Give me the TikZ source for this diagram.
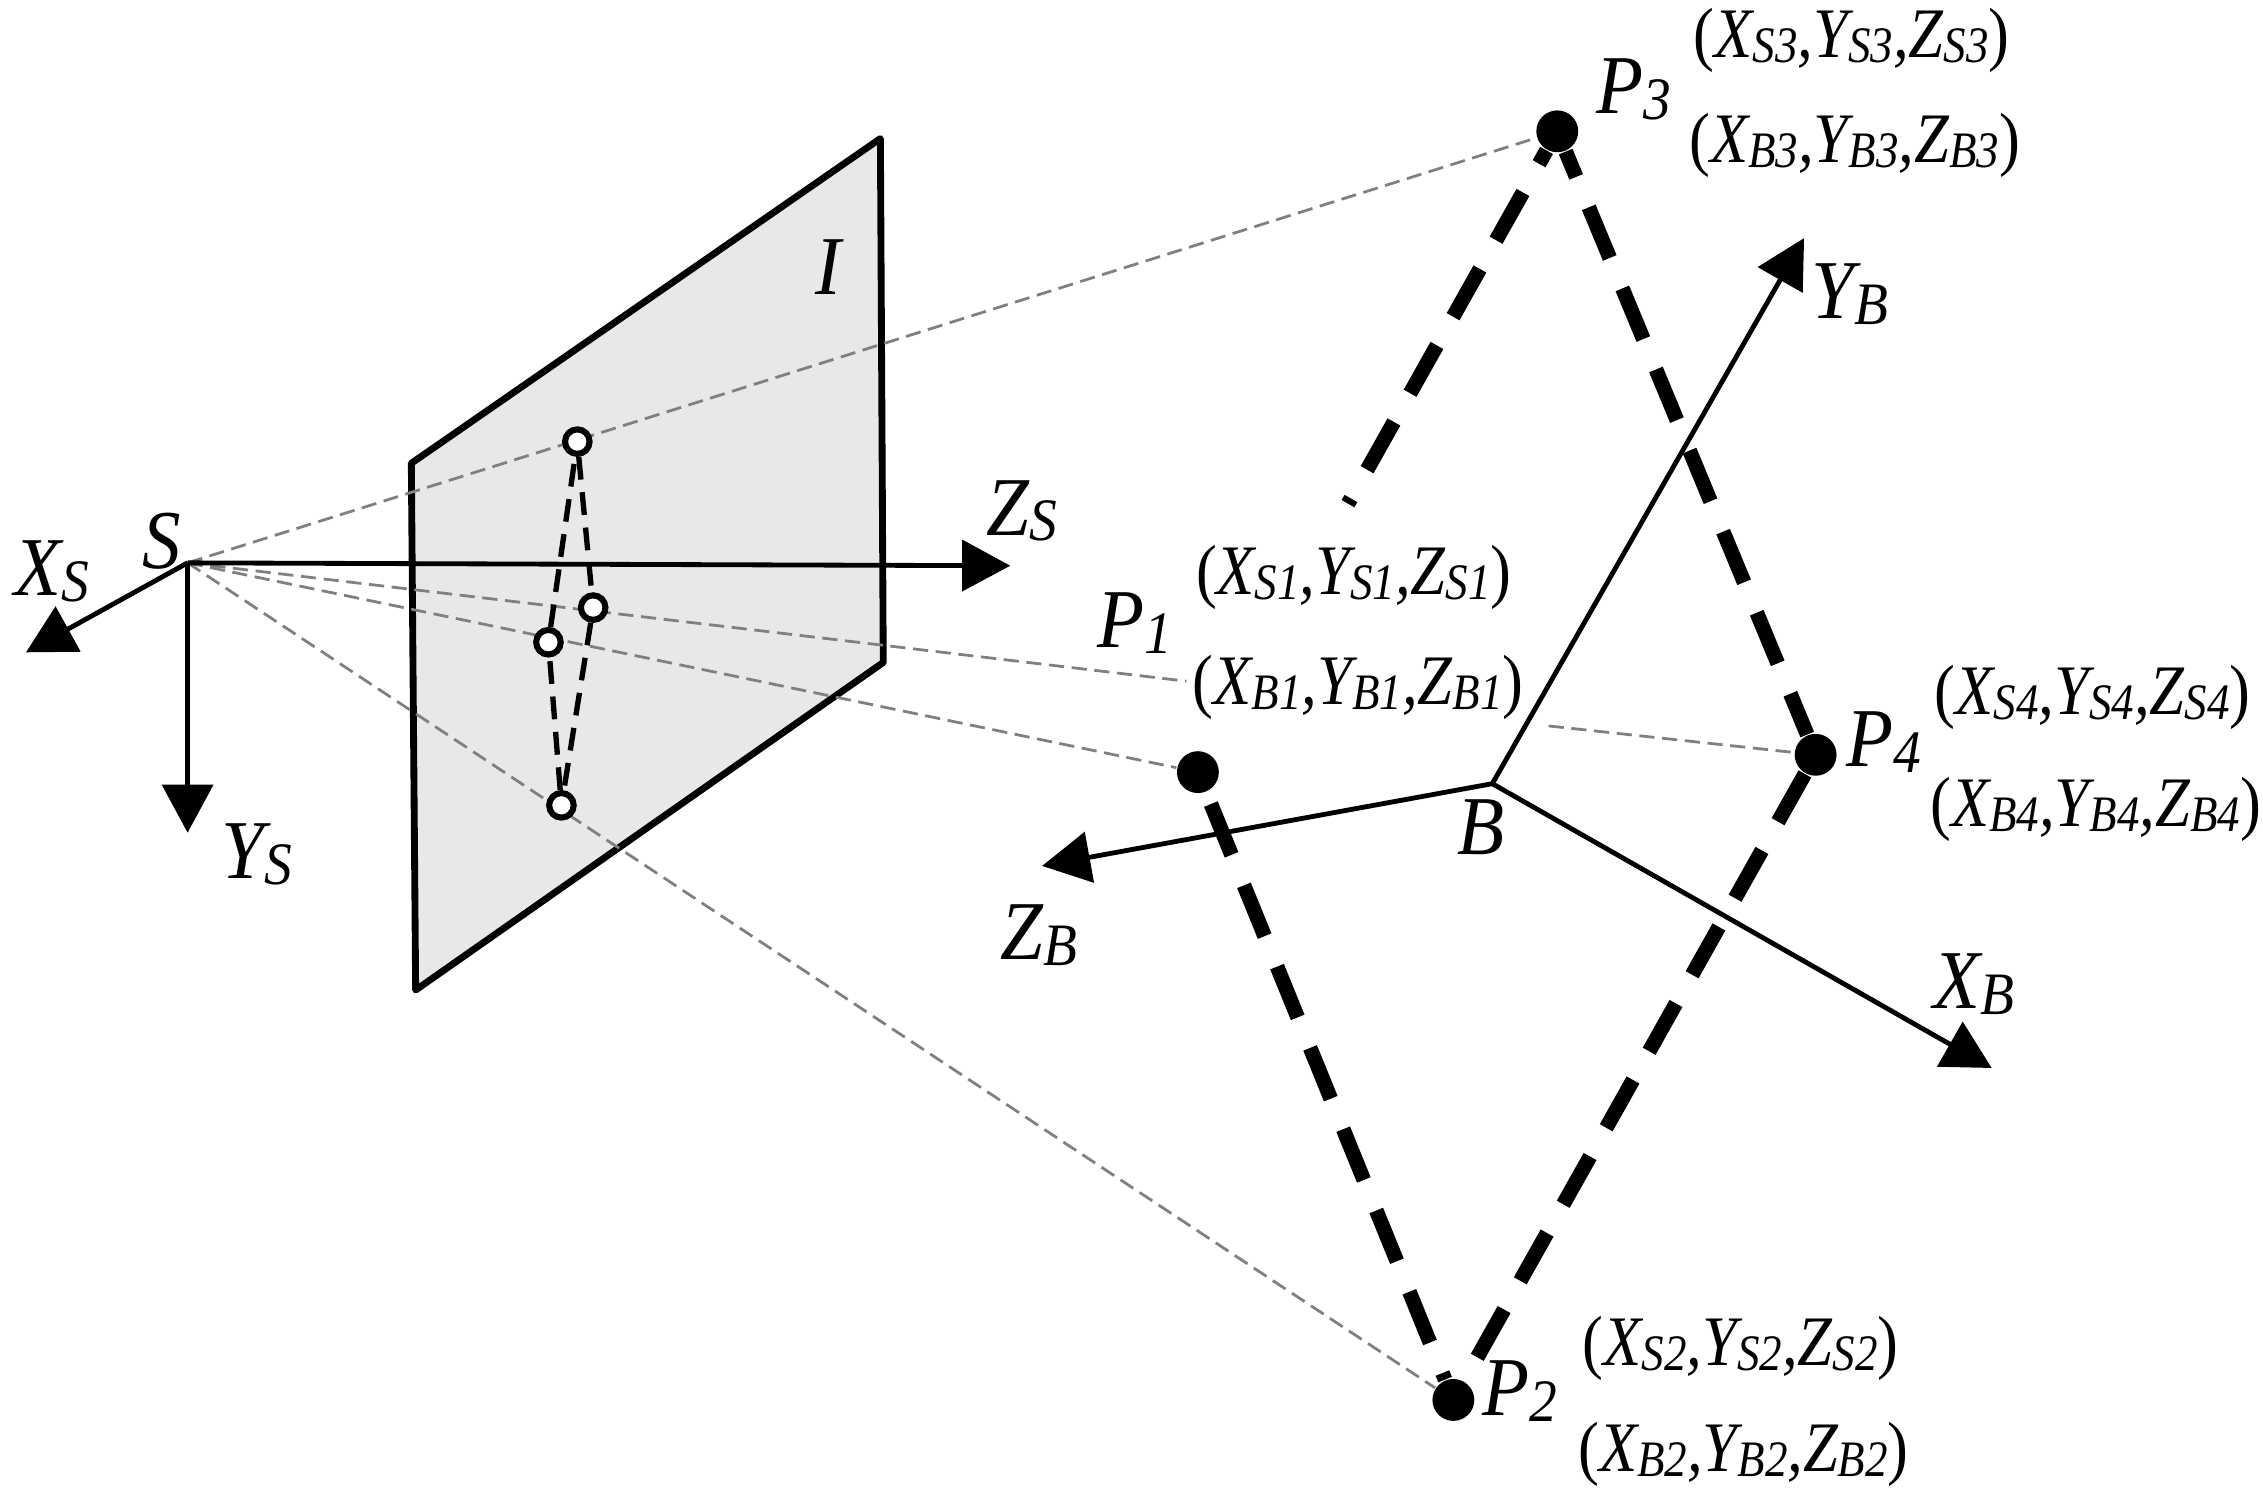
\documentclass[tikz,border=0pt]{standalone}
\usepackage{fontspec}
\usepackage{xcolor}
\usepackage{tikz}
\usetikzlibrary{arrows.meta}
\setmainfont{Liberation Serif}
\newcommand{\lowsub}[1]{\raisebox{-0.07em}{\scalebox{0.72}{#1}}}
\tikzset{
	axis/.style={line width=0.95pt,-{Triangle[length=9.5pt,width=10pt]}},
	ray/.style={black!50,line width=0.55pt,dash pattern=on 3pt off 1.5pt},
	edge/.style={line width=2.9pt,dash pattern=on 10.8pt off 6.5pt},
	imgedge/.style={line width=1.05pt,dash pattern=on 4.5pt off 2.5pt},
	imgpt/.style={circle,draw,fill=white,line width=1.2pt,inner sep=0pt,minimum size=0.17cm},
	objpt/.style={circle,fill=black,inner sep=0pt,minimum size=0.29cm},
	lab/.style={font=\fontsize{16.5}{18}\selectfont\itshape,inner sep=0pt,transform shape,xscale=0.92},
	coordlab/.style={font=\fontsize{14}{16}\selectfont\itshape,inner sep=0pt,transform shape,xscale=0.88}
}
\begin{document}
\begin{tikzpicture}
	\useasboundingbox (0,0) rectangle (15.68,10.36);
	% image plane
	\draw[line width=1.35pt,fill=black!9,line join=round] (2.85,7.15) -- (6.10,9.40) -- (6.12,5.77) -- (2.88,3.50) -- cycle;
	\node[lab] (lblI) at (5.74,8.51) {I};

	% named points
	\coordinate (S) at (1.30,6.46);
	\coordinate (B) at (10.34,4.93);
	\coordinate (XSend) at (0.18,5.84);
	\coordinate (YSend) at (1.30,4.59);
	\coordinate (ZSend) at (7.00,6.44);
	\coordinate (XBend) at (13.80,2.96);
	\coordinate (YBend) at (12.50,8.71);
	\coordinate (ZBend) at (7.22,4.36);
	\coordinate (hiddenEnd) at (9.34,6.87);
	\coordinate (rayFourA) at (8.22,5.64);
	\coordinate (rayFourB) at (10.73,5.33);
	\node[objpt] (P1) at (8.30,5.01) {};
	\node[objpt] (P2) at (10.07,0.66) {};
	\node[objpt] (P3) at (10.79,9.45) {};
	\node[objpt] (P4) at (12.58,5.13) {};

	% projection rays
	\draw[ray] (S) -- (P3);
	\draw[ray] (S) -- (P1);
	\draw[ray] (S) -- (P2);
	\draw[ray] (S) -- (rayFourA);
	\draw[ray] (rayFourB) -- (P4);

	% frames
	\draw[axis] (S) -- (XSend);
	\draw[axis] (S) -- (YSend);
	\draw[axis] (S) -- (ZSend);
	\draw[axis] (B) -- (XBend);
	\draw[axis] (B) -- (YBend);
	\draw[axis] (B) -- (ZBend);

	% object edges
	\draw[edge,dash phase=7.8pt] (P3) -- (hiddenEnd);
	\draw[edge,dash phase=5.4pt] (P3) -- (P4);
	\draw[edge] (P4) -- (P2);
	\draw[edge,dash phase=9.4pt] (P2) -- (P1);

	% image points
	\node[imgpt] (i1) at (3.80,5.91) {};
	\node[imgpt] (i2) at (3.89,4.78) {};
	\node[imgpt] (i3) at (4.00,7.30) {};
	\node[imgpt] (i4) at (4.11,6.15) {};
	\draw[imgedge] (i3) -- (i4);
	\draw[imgedge] (i4) -- (i2);
	\draw[imgedge] (i2) -- (i1);
	\draw[imgedge] (i1) -- (i3);

	% labels
	\node[lab] (lblS) at (1.12,6.61) {S};
	\node[lab] (lblB) at (10.26,4.63) {B};
	\node[lab] (lblXS) at (0.36,6.40) {X\lowsub{S}};
	\node[lab] (lblYS) at (1.78,4.44) {Y\lowsub{S}};
	\node[lab] (lblZS) at (7.08,6.82) {Z\lowsub{S}};
	\node[lab] (lblXB) at (13.68,3.54) {X\lowsub{B}};
	\node[lab] (lblYB) at (12.82,8.32) {Y\lowsub{B}};
	\node[lab] (lblZB) at (7.20,3.88) {Z\lowsub{B}};
	\node[lab] (lblP1) at (7.86,6.04) {P\lowsub{1}};
	\node[lab] (lblP2) at (10.53,0.72) {P\lowsub{2}};
	\node[lab] (lblP3) at (11.32,9.74) {P\lowsub{3}};
	\node[lab] (lblP4) at (13.05,5.22) {P\lowsub{4}};
	\node[coordlab] (lblSa) at (9.38,6.36) {\textup{(}X\lowsub{S1},Y\lowsub{S1},Z\lowsub{S1}\textup{)}};
	\node[coordlab] (lblBa) at (9.41,5.60) {\textup{(}X\lowsub{B1},Y\lowsub{B1},Z\lowsub{B1}\textup{)}};
	\node[coordlab] (lblSb) at (12.06,1.02) {\textup{(}X\lowsub{S2},Y\lowsub{S2},Z\lowsub{S2}\textup{)}};
	\node[coordlab] (lblBb) at (12.08,0.28) {\textup{(}X\lowsub{B2},Y\lowsub{B2},Z\lowsub{B2}\textup{)}};
	\node[coordlab] (lblSc) at (12.83,10.08) {\textup{(}X\lowsub{S3},Y\lowsub{S3},Z\lowsub{S3}\textup{)}};
	\node[coordlab] (lblBc) at (12.85,9.35) {\textup{(}X\lowsub{B3},Y\lowsub{B3},Z\lowsub{B3}\textup{)}};
	\node[coordlab] (lblSd) at (14.50,5.53) {\textup{(}X\lowsub{S4},Y\lowsub{S4},Z\lowsub{S4}\textup{)}};
	\node[coordlab] (lblBd) at (14.52,4.75) {\textup{(}X\lowsub{B4},Y\lowsub{B4},Z\lowsub{B4}\textup{)}};
\end{tikzpicture}
\end{document}
